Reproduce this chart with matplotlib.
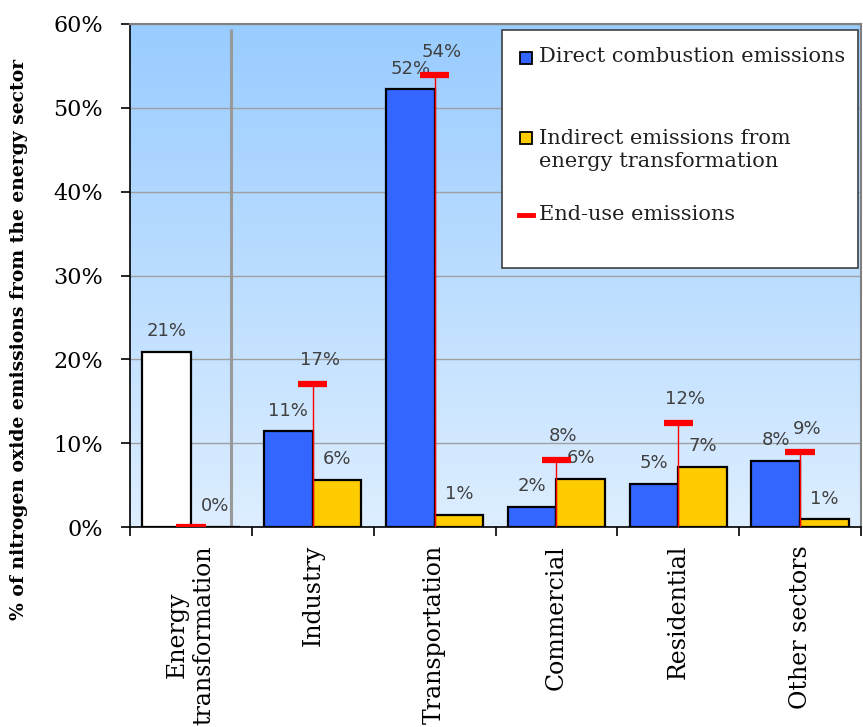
import numpy as np
import matplotlib.pyplot as plt
from matplotlib.colors import LinearSegmentedColormap
from matplotlib.patches import Rectangle
from matplotlib.lines import Line2D

# values (% of NOx emissions from the energy sector)
sectors = ['Energy\ntransformation', 'Industry', 'Transportation',
           'Commercial', 'Residential', 'Other sectors']
direct = [20.9, 11.4, 52.2, 2.4, 5.1, 7.9]
indirect = [0.0, 5.6, 1.4, 5.7, 7.2, 0.9]
end_use = [0.0, 17.1, 53.9, 8.0, 12.4, 8.9]
yticks = [0, 10, 20, 30, 40, 50, 60]

BLUE = '#3366ff'
YELLOW = '#ffcc00'
LBL = '#404040'

fig = plt.figure(figsize=(8.63, 7.27), dpi=100)
fig.subplots_adjust(left=130/863, right=861/863, bottom=1-527/727, top=1-24/727)
ax = fig.add_subplot(111)

# gradient plot area
grad = np.linspace(0, 1, 256).reshape(-1, 1)
cmap = LinearSegmentedColormap.from_list('bg', ['#ddeeff', '#99ccff'])
ax.imshow(grad, cmap=cmap, extent=[0, 1, 0, 1], transform=ax.transAxes,
          aspect='auto', origin='lower', zorder=0)

x = np.arange(len(sectors))
w = 0.4
cols = ['white'] + [BLUE] * (len(sectors) - 1)
ax.bar(x - w/2, direct, w, color=cols, edgecolor='black', lw=1.6, zorder=2)
ax.bar(x + w/2, indirect, w, color=YELLOW, edgecolor='black', lw=1.6, zorder=2)

# separator between energy transformation and end-use sectors
ax.vlines(0.33, 0, 59.4, color='#999999', lw=2.2, zorder=1.5)

# end-use markers
eu = np.array(end_use)
ax.vlines(x[eu > 0], 0, eu[eu > 0], color='red', lw=1, zorder=3)
ax.hlines(eu, x - 0.12, x + 0.12, color='red', lw=4.5, zorder=4)

for i in range(len(sectors)):
    ax.annotate(f'{direct[i]:.0f}%', (x[i] - w/2, direct[i]), xytext=(0, 15),
                textcoords='offset points', ha='center', va='center',
                fontsize=13, color=LBL, family='DejaVu Sans')
    ax.annotate(f'{indirect[i]:.0f}%', (x[i] + w/2, indirect[i]), xytext=(0, 15),
                textcoords='offset points', ha='center', va='center',
                fontsize=13, color=LBL, family='DejaVu Sans')
    if end_use[i] > 0:
        ax.annotate(f'{end_use[i]:.0f}%', (x[i], end_use[i]), xytext=(5, 17),
                    textcoords='offset points', ha='center', va='center',
                    fontsize=13, color=LBL, family='DejaVu Sans')

ax.set_xlim(-0.5, len(sectors) - 0.5)
ax.set_ylim(0, 60)
ax.yaxis.grid(True, color='#a0a0a0', lw=1)
ax.set_axisbelow(True)

ax.set_yticks(yticks)
ax.set_yticklabels([f'{v}%' for v in yticks], family='DejaVu Serif', fontsize=16)
ax.tick_params(axis='y', length=6.5, width=1.2, pad=13, colors='black')

ax.set_xticks(np.arange(-0.5, len(sectors), 1))
ax.set_xticklabels([])
ax.tick_params(axis='x', which='major', length=6.5, width=1.2)
ax.set_xticks(x, minor=True)
ax.set_xticklabels(sectors, minor=True, rotation=90, family='DejaVu Serif',
                   fontsize=17, va='top', ha='center', multialignment='center')
ax.tick_params(axis='x', which='minor', length=0, pad=13)

for s in ['left', 'bottom']:
    ax.spines[s].set_color('black')
    ax.spines[s].set_linewidth(1.2)
for s in ['top', 'right']:
    ax.spines[s].set_color('#808080')
    ax.spines[s].set_linewidth(1.5)

fig.text(19/863, 1 - 339/727, '% of nitrogen oxide emissions from the energy sector',
         rotation=90, ha='center', va='center', family='DejaVu Serif',
         weight='bold', fontsize=13.5)

# legend box (drawn to match the original layout)
def ax_pt(px, py):
    return (px - 130) / 731, (527 - py) / 503

x0, y0 = ax_pt(502, 268)
x1, y1 = ax_pt(858, 30)
ax.add_patch(Rectangle((x0, y0), x1 - x0, y1 - y0, transform=ax.transAxes,
                       fc='white', ec='#404040', lw=1.2, zorder=5))
for py, col in [(57, BLUE), (137, YELLOW)]:
    hx, hy = ax_pt(520, py + 6.5)
    ax.add_patch(Rectangle((hx, hy), 12/731, 12/503, transform=ax.transAxes,
                           fc=col, ec='black', lw=1.3, zorder=6))
lx0, ly = ax_pt(519, 215)
lx1, _ = ax_pt(533, 215)
ax.add_line(Line2D([lx0, lx1], [ly, ly], transform=ax.transAxes, color='red',
                   lw=3.5, zorder=6))
for py, txt in [(57, 'Direct combustion emissions'),
                (150, 'Indirect emissions from\nenergy transformation'),
                (215, 'End-use emissions')]:
    tx, ty = ax_pt(539, py)
    ax.text(tx, ty, txt, transform=ax.transAxes, ha='left', va='center',
            family='DejaVu Serif', fontsize=15, color='#202020',
            linespacing=1.25, zorder=7)

fig.savefig('out.png', dpi=100)
